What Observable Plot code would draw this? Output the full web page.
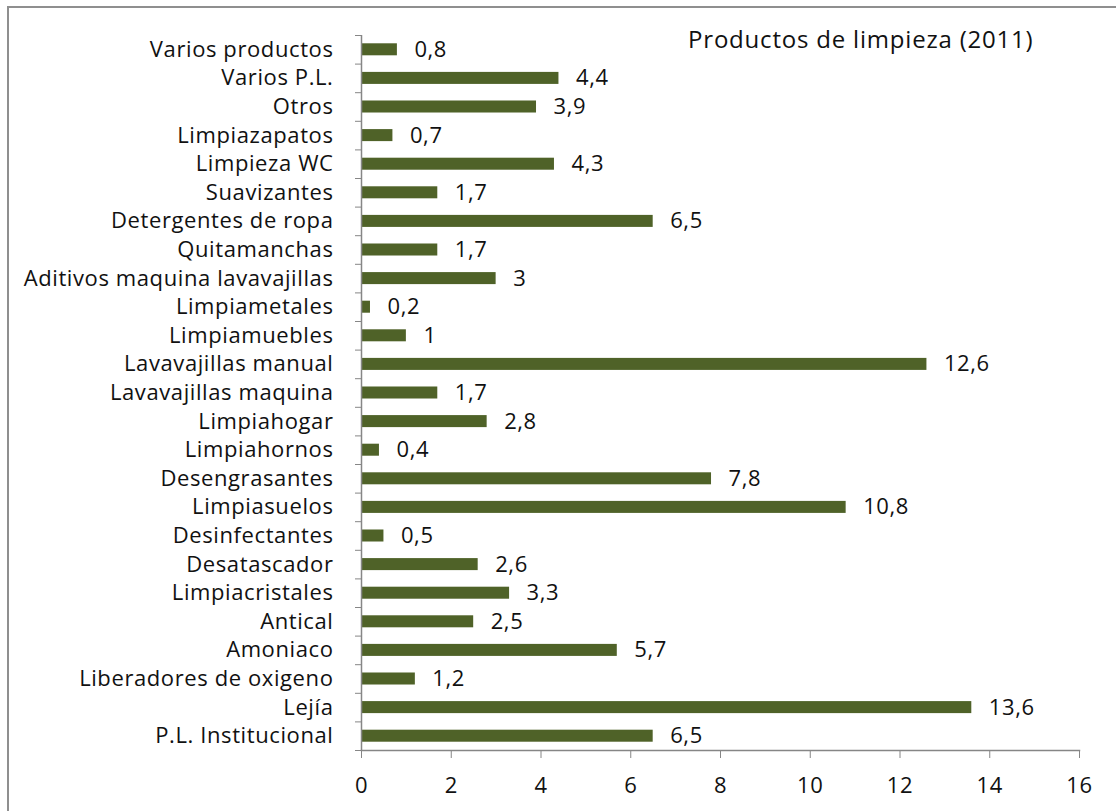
<!DOCTYPE html>
<html>
<head>
<meta charset="utf-8">
<script src="https://cdn.jsdelivr.net/npm/d3@7"></script>
<script src="https://cdn.jsdelivr.net/npm/@observablehq/plot@0.6"></script>
<style>
  html, body { margin: 0; padding: 0; background: #fff; }
  #wrap { position: relative; width: 1116px; height: 811px; overflow: hidden; background: #fff; }
  #border { position: absolute; left: 7px; top: 6px; width: 1200px; height: 900px; border: 2px solid #8f8f8f; box-sizing: border-box; }
  #chart { position: absolute; left: 0; top: 0; }
  #chart svg text { letter-spacing: 0.6px; }
  #chart svg .title-mark text { letter-spacing: 0.8px; }
</style>
</head>
<body>
<div id="wrap"><div id="border"></div><div id="chart"></div></div>
<script>
const title = "Productos de limpieza (2011)";
const categories = [
  "Varios productos", "Varios P.L.", "Otros", "Limpiazapatos", "Limpieza WC",
  "Suavizantes", "Detergentes de ropa", "Quitamanchas", "Aditivos maquina lavavajillas",
  "Limpiametales", "Limpiamuebles", "Lavavajillas manual", "Lavavajillas maquina",
  "Limpiahogar", "Limpiahornos", "Desengrasantes", "Limpiasuelos", "Desinfectantes",
  "Desatascador", "Limpiacristales", "Antical", "Amoniaco", "Liberadores de oxigeno",
  "Lejía", "P.L. Institucional"
];
const values = [
  0.8, 4.4, 3.9, 0.7, 4.3,
  1.7, 6.5, 1.7, 3,
  0.2, 1, 12.6, 1.7,
  2.8, 0.4, 7.8, 10.8, 0.5,
  2.6, 3.3, 2.5, 5.7, 1.2,
  13.6, 6.5
];
const xTicks = [0, 2, 4, 6, 8, 10, 12, 14, 16];

const data = categories.map((c, i) => ({cat: c, value: values[i]}));
const fmt = v => String(v).replace(".", ",");

const W = 1116, H = 811, mt = 35, mb = 61, ml = 361, mr = 37;
const step = (H - mt - mb) / categories.length;
const axisColor = "#868686";

const chart = Plot.plot({
  width: W, height: H,
  marginTop: mt, marginBottom: mb, marginLeft: ml, marginRight: mr,
  style: {fontFamily: "'Open Sans', sans-serif", fontSize: "22px", color: "#111", background: "transparent", overflow: "visible"},
  x: {domain: [0, 16], ticks: xTicks},
  y: {domain: categories, paddingInner: 0.58, paddingOuter: 0.29, round: false},
  marks: [
    Plot.barX(data, {x: "value", y: "cat", fill: "#4f6228"}),
    Plot.text(data, {x: "value", y: "cat", text: d => fmt(d.value), textAnchor: "start", dx: 17, fontSize: 22, fill: "#111"}),
    Plot.ruleX([0], {stroke: axisColor, strokeWidth: 1.5}),
    Plot.frame({anchor: "bottom", stroke: axisColor, strokeWidth: 1.5}),
    Plot.axisX({ticks: xTicks, tickSize: 8, tickPadding: 19, fontSize: 22, stroke: axisColor, fill: "#111", label: null, tickFormat: d => d}),
    Plot.axisY({tickSize: 0, tickPadding: 28, fontSize: 22, label: null, fill: "#111"}),
    Plot.axisY({tickSize: 6, fill: "none", stroke: axisColor, label: null, dy: -step / 2}),
    Plot.axisY({ticks: [categories[categories.length - 1]], tickSize: 6, fill: "none", stroke: axisColor, label: null, dy: step / 2}),
    Plot.text([title], {frameAnchor: "top-right", dx: -46, dy: 5, text: d => d, fontSize: 24, fill: "#111", lineAnchor: "middle", className: "title-mark"})
  ]
});
document.getElementById("chart").appendChild(chart);
</script>
</body>
</html>
